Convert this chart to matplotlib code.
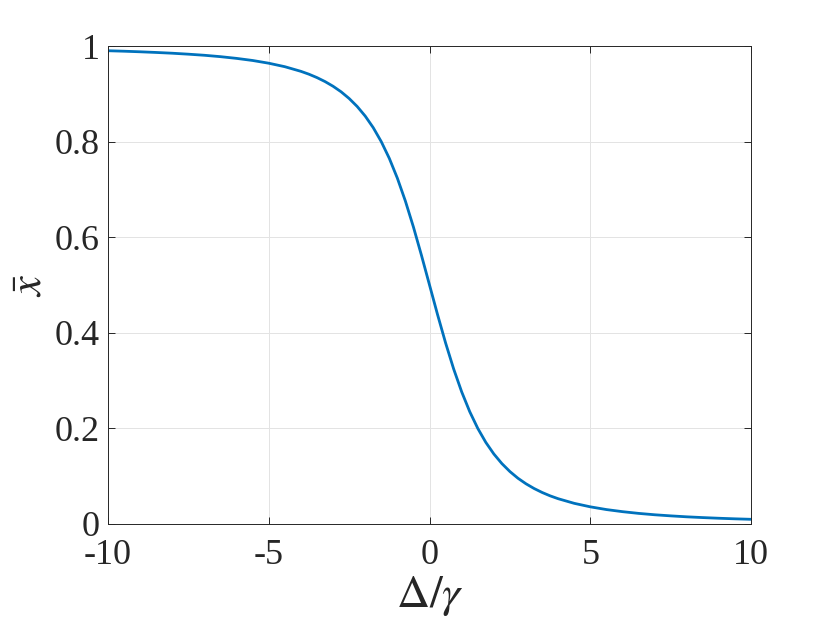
import matplotlib
matplotlib.use("Agg")
import matplotlib.pyplot as plt

# Detuning values (Delta/gamma) and the read-off steady-state x-bar values
delta = [-10, -9.5, -9, -8.5, -8, -7.5, -7, -6.5, -6, -5.5, -5, -4.5, -4,
         -3.75, -3.5, -3.25, -3, -2.75, -2.5, -2.25, -2,
         -1.75, -1.5, -1.25, -1, -0.75, -0.5, -0.25, 0,
         0.25, 0.5, 0.75, 1, 1.25, 1.5, 1.75, 2, 2.25, 2.5, 2.75, 3, 3.25,
         3.5, 3.75, 4, 4.5, 5, 5.5, 6, 6.5, 7, 7.5, 8, 8.5, 9, 9.5, 10]
xbar = [0.9903, 0.9893, 0.9881, 0.9867, 0.9851, 0.9831, 0.9808, 0.9779,
        0.9743, 0.9699, 0.9642, 0.9569, 0.9472, 0.9412, 0.9341, 0.9258,
        0.9160, 0.9044, 0.8904, 0.8737, 0.8536,
        0.8293, 0.8000, 0.7650, 0.7236, 0.6756, 0.6213, 0.5620, 0.5000,
        0.4380, 0.3787, 0.3244, 0.2764, 0.2350, 0.2000, 0.1707, 0.1464,
        0.1263, 0.1096, 0.0956, 0.0840, 0.0742, 0.0659, 0.0588, 0.0528,
        0.0431, 0.0358, 0.0301, 0.0257, 0.0221, 0.0192, 0.0169, 0.0149,
        0.0133, 0.0119, 0.0107, 0.0097]

xticks = [-10, -5, 0, 5, 10]
xticklabels = ["-10", "-5", "0", "5", "10"]
yticks = [0, 0.2, 0.4, 0.6, 0.8, 1]
yticklabels = ["0", "0.2", "0.4", "0.6", "0.8", "1"]

plt.rcParams['font.family'] = ['Liberation Serif', 'DejaVu Serif']
plt.rcParams['mathtext.fontset'] = 'stix'

fig = plt.figure(figsize=(8.30, 6.23), dpi=100)
ax = fig.add_axes([0.130, 0.159, 0.775, 0.767])

ax.plot(delta, xbar, color='#0072BD', linewidth=2.0,
        solid_joinstyle='round', solid_capstyle='butt')

ax.set_xlim(-10, 10)
ax.set_ylim(0, 1)
ax.set_xticks(xticks)
ax.set_xticklabels(xticklabels)
ax.set_yticks(yticks)
ax.set_yticklabels(yticklabels)

ax.grid(True, color='#e3e3e3', linewidth=0.7)
ax.set_axisbelow(True)
ax.tick_params(direction='in', length=5, width=0.7, colors='#262626',
               labelsize=26, top=True, right=True)
ax.tick_params(axis='x', pad=11)
ax.tick_params(axis='y', pad=6)
for lab in ax.get_xticklabels() + ax.get_yticklabels():
    lab.set_color('#262626')
for s in ax.spines.values():
    s.set_color('#262626')
    s.set_linewidth(0.7)

ax.set_xlabel(r'$\Delta/\gamma$', fontsize=33, color='#262626', labelpad=1)
ax.set_ylabel(r'$\bar{x}$', fontsize=32, color='#262626', labelpad=3)

fig.savefig('out.png', dpi=100)
